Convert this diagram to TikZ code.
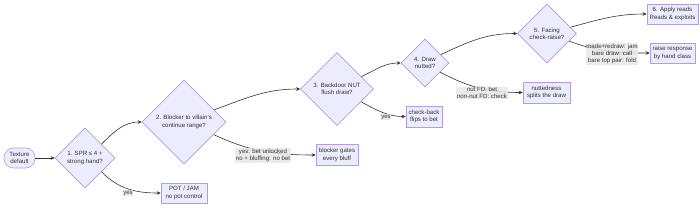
\documentclass[tikz,border=0pt]{standalone}
\usepackage{fontspec}
\setmainfont{Liberation Sans}
\usetikzlibrary{shapes.geometric,arrows.meta}
\definecolor{nfill}{HTML}{ECECFF}
\definecolor{nstroke}{HTML}{B09CE8}
\definecolor{ink}{HTML}{333333}
\definecolor{lblbg}{HTML}{E8E8E8}
\begin{document}
\begin{tikzpicture}[x=1pt,y=-1pt,
 every node/.style={font=\fontsize{6.1}{7.3}\selectfont, text=ink, align=center},
 box/.style={draw=nstroke, fill=nfill, line width=0.6pt, rectangle, inner sep=0pt, minimum height=20pt},
 dia/.style={draw=nstroke, fill=nfill, line width=0.6pt, diamond, inner sep=0pt},
 arr/.style={draw=ink, line width=0.6pt, -{Stealth[length=4pt,width=3.6pt]}},
 lbl/.style={fill=lblbg, fill opacity=0.85, text opacity=1, inner sep=0.6pt}
]
\useasboundingbox (0,0) rectangle (700,211);
\node[box, rounded corners=9.5pt, minimum width=31pt] (tex) at (19.5,158) {Texture\\default};
\node[dia, minimum width=60pt, minimum height=60pt] (d1) at (85,158) {1. SPR ≤ 4 +\\strong hand?};
\node[box, minimum width=46pt] (pot) at (184,193) {POT / JAM\\no pot control};
\node[dia, minimum width=84pt, minimum height=84pt] (d2) at (184,122) {2. Blocker to villain's\\continue range?};
\node[box, minimum width=42pt, minimum height=21pt] (blk) at (337,155) {blocker gates\\every bluff};
\node[dia, minimum width=73pt, minimum height=73pt] (d3) at (337,89) {3. Backdoor NUT\\flush draw?};
\node[box, minimum width=36pt, minimum height=21pt] (chk) at (424,116.5) {check-back\\flips to bet};
\node[dia, minimum width=48pt, minimum height=48pt] (d4) at (425,63) {4. Draw\\nutted?};
\node[box, minimum width=47pt, minimum height=21pt] (nut) at (546.5,92.5) {nuttedness\\splits the draw};
\node[dia, minimum width=59pt, minimum height=59pt] (d5) at (547,33.5) {5. Facing\\check-raise?};
\node[box, minimum width=51pt] (app) at (672.5,14) {6. Apply reads\\Reads \& exploits};
\node[box, minimum width=45pt] (rai) at (672.5,53) {raise response\\by hand class};

\draw[arr] (tex) -- (d1);
\draw[arr] (d1.40) to[out=45,in=180] (d2.west);
\draw[arr] (d1.-40) to[out=-45,in=180] (pot.west);
\node[lbl] (l1) at (128,193) {yes};
\draw[arr] (d2.22) to[out=20,in=180] (d3.west);
\draw[arr] (d2.-23) to[out=-25,in=180] (blk.west);
\node[lbl] (l2) at (263,155.5) {yes: bet unlocked\\no + bluffing: no bet};
\draw[arr] (d3.27) to[out=25,in=180] (d4.west);
\draw[arr] (d3.-28) to[out=-28,in=180] (chk.west);
\node[lbl] (l3) at (386,117) {yes};
\draw[arr] (d4.28) to[out=25,in=180] (d5.west);
\draw[arr] (d4.-31) to[out=-28,in=180] (nut.west);
\node[lbl] (l4) at (482,93) {nut FD: bet\\non-nut FD: check};
\draw[arr] (d5.15) to[out=15,in=180] (app.west);
\draw[arr] (d5.-19) to[out=-20,in=180] (rai.west);
\node[lbl] (l5) at (612,54) {made+redraw: jam\\bare draw: call\\bare top pair: fold};
\end{tikzpicture}
\end{document}
